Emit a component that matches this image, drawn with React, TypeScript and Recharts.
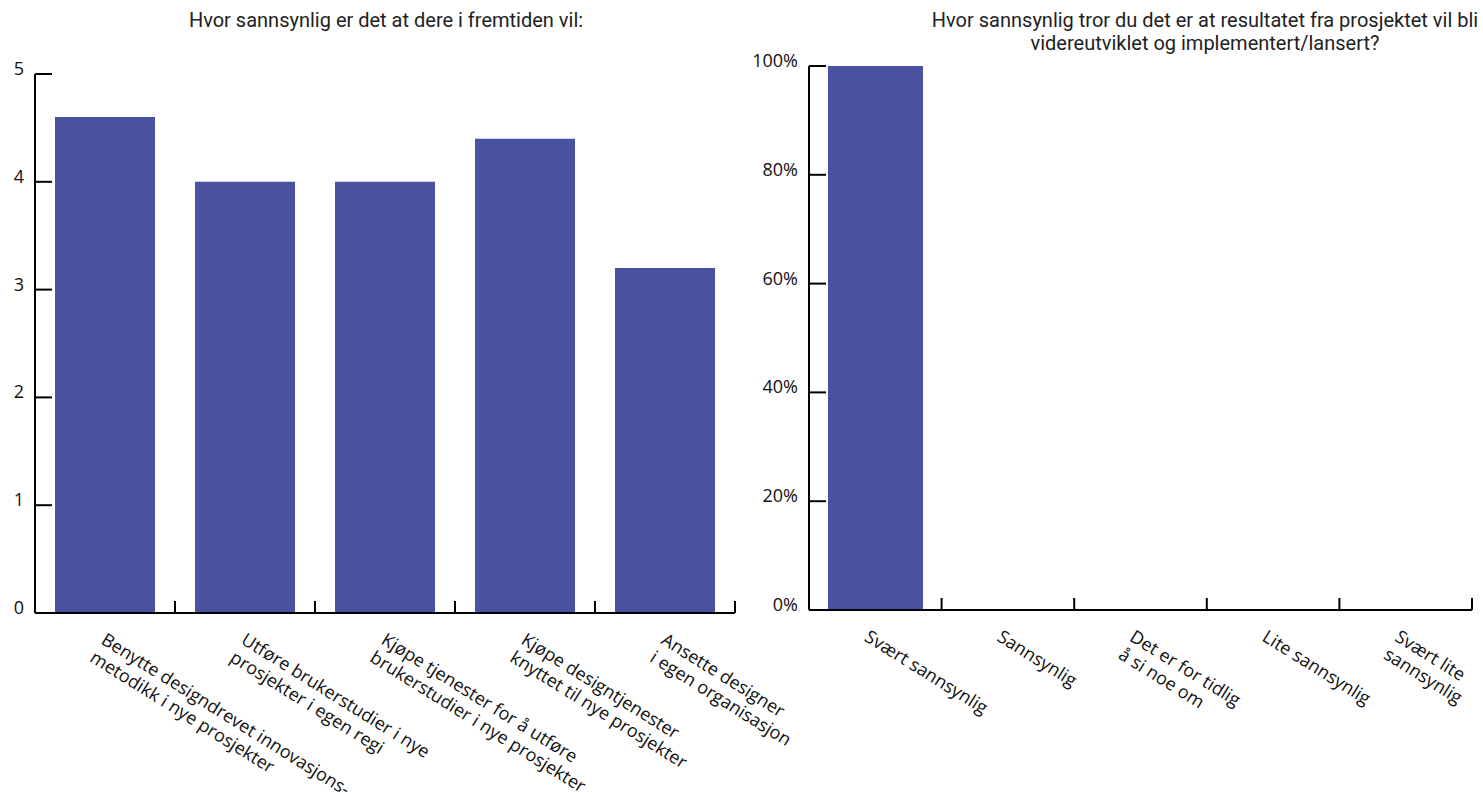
import { BarChart, Bar, XAxis, YAxis } from 'recharts';

// Venstre diagram: gjennomsnittlig score (1–5) per tiltak
const measures = [
  'Benytte designdrevet innovasjons-\nmetodikk i nye prosjekter',
  'Utføre brukerstudier i nye\nprosjekter i egen regi',
  'Kjøpe tjenester for å utføre\nbrukerstudier i nye prosjekter',
  'Kjøpe designtjenester\nknyttet til nye prosjekter',
  'Ansette designer\ni egen organisasjon',
];
const meanScores = [4.6, 4.0, 4.0, 4.4, 3.2];
const scoreTicks = [0, 1, 2, 3, 4, 5];

// Høyre diagram: andel svar per kategori (%)
const outlookLabels = [
  'Svært sannsynlig',
  'Sannsynlig',
  'Det er for tidlig\nå si noe om',
  'Lite sannsynlig',
  'Svært lite\nsannsynlig',
];
const outlookShares = [100, 0, 0, 0, 0];
const shareTicks = [0, 20, 40, 60, 80, 100];

const BAR_COLOR = '#4852a0';
const LABEL_FONT = '"Open Sans", sans-serif';
const TITLE_FONT = 'Roboto, sans-serif';

const scoreData = measures.map((name, i) => ({ name, value: meanScores[i] }));
const shareData = outlookLabels.map((name, i) => ({ name, value: outlookShares[i] }));

// y-aksens tick: strek innover i plottet, tall til venstre
function YTick(props: any) {
  const { x, y, payload, suffix = '' } = props;
  return (
    <g>
      <line x1={x} y1={y} x2={x + 17} y2={y} stroke="#000" strokeWidth={2} />
      <text x={x - 11} y={y + 1} textAnchor="end" fontFamily={LABEL_FONT} fontSize={18} fill="#111">
        {payload.value}
        {suffix}
      </text>
    </g>
  );
}

// x-aksens tick: strek på kategorigrensen, skrå etikett under
function XTick(props: any) {
  const { x, y, payload, shift = -5 } = props;
  const half = payload.offset ?? 0;
  const lines = String(payload.value).split('\n');
  return (
    <g>
      <line x1={x + half} y1={y} x2={x + half} y2={y - 12} stroke="#000" strokeWidth={2} />
      <g transform={`translate(${x + shift}, ${y + 30}) rotate(32)`}>
        <text fontFamily={LABEL_FONT} fontSize={18} fill="#111">
          {lines.map((l, i) => (
            <tspan key={i} x={0} dy={i === 0 ? 0 : 21}>
              {l}
            </tspan>
          ))}
        </text>
      </g>
    </g>
  );
}

const axisLine = { stroke: '#000', strokeWidth: 2 };

const titleStyle = {
  position: 'absolute' as const,
  top: 9,
  lineHeight: '23px',
  textAlign: 'center' as const,
  fontFamily: TITLE_FONT,
  fontSize: 20,
  color: '#222',
};

export default function App() {
  return (
    <div style={{ position: 'absolute', left: 0, top: 0, width: 1483, height: 796, background: '#fff', overflow: 'hidden' }}>
      <div style={{ ...titleStyle, left: 86, width: 600 }}>Hvor sannsynlig er det at dere i fremtiden vil:</div>
      <div style={{ ...titleStyle, left: 895, width: 620 }}>
        Hvor sannsynlig tror du det er at resultatet fra prosjektet vil bli
        <br />
        videreutviklet og implementert/lansert?
      </div>

      <div style={{ position: 'absolute', left: 0, top: 0 }}>
        <BarChart
          width={900}
          height={796}
          data={scoreData}
          margin={{ top: 74, right: 165, bottom: 33, left: 0 }}
          barCategoryGap="14.3%"
        >
          <XAxis
            dataKey="name"
            height={150}
            interval={0}
            axisLine={axisLine}
            tickLine={false}
            tickSize={0}
            tickMargin={0}
            tick={<XTick />}
          />
          <YAxis
            width={35}
            domain={[0, 5]}
            ticks={scoreTicks}
            axisLine={axisLine}
            tickLine={false}
            tickSize={0}
            tickMargin={0}
            tick={<YTick />}
          />
          <Bar dataKey="value" fill={BAR_COLOR} isAnimationActive={false} />
        </BarChart>
      </div>

      <div style={{ position: 'absolute', left: 700, top: 0 }}>
        <BarChart
          width={783}
          height={796}
          data={shareData}
          margin={{ top: 66, right: 11, bottom: 36, left: 60 }}
          barCategoryGap="14.3%"
        >
          <XAxis
            dataKey="name"
            height={150}
            interval={0}
            axisLine={axisLine}
            tickLine={false}
            tickSize={0}
            tickMargin={0}
            tick={<XTick shift={-12} />}
          />
          <YAxis
            width={49}
            domain={[0, 100]}
            ticks={shareTicks}
            axisLine={axisLine}
            tickLine={false}
            tickSize={0}
            tickMargin={0}
            tick={<YTick suffix="%" />}
          />
          <Bar dataKey="value" fill={BAR_COLOR} isAnimationActive={false} />
        </BarChart>
      </div>
    </div>
  );
}
